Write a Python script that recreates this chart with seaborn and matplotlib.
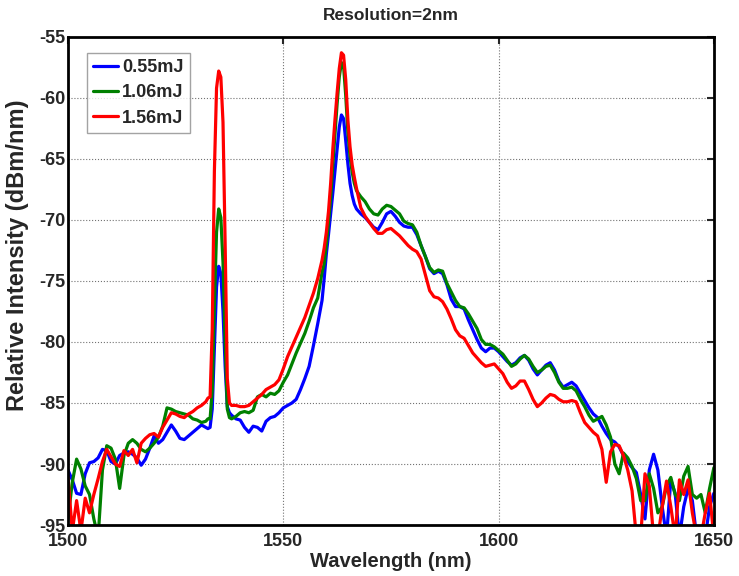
import numpy as np
import pandas as pd
import matplotlib
matplotlib.use('Agg')
import matplotlib.pyplot as plt
import seaborn as sns

# wavelength grid (nm), finer around the two peaks
wl = np.concatenate([
    np.arange(1500, 1533, 1.0),       # 33
    np.arange(1532.5, 1538.01, 0.5),  # 12
    np.arange(1539, 1560, 1.0),       # 21
    np.arange(1559.5, 1567.01, 0.5),  # 16
    np.arange(1568, 1651, 1.0),       # 83
])

energies = ['0.55mJ', '1.06mJ', '1.56mJ']
colors = ['#0000ff', '#008000', '#ff0000']

# 0.55 mJ (blue)
blue_low = [-90.5, -91.3, -92.4, -92.5, -90.8, -89.9, -89.8, -89.5, -88.8, -88.9,
            -89.8, -90.0, -89.3, -89.1, -89.0, -89.2, -89.5, -90.1, -89.6, -88.7,
            -87.7, -88.3, -88.0, -87.4, -86.8, -87.3, -87.9, -88.0, -87.7, -87.4,
            -87.1, -86.8, -87.0]
blue_pk1 = [-87.1, -87.0, -85.5, -80.5, -75.5, -73.8, -74.4, -77.5, -82.0, -85.3, -85.8, -86.0]
blue_mid = [-86.3, -86.4, -87.0, -87.4, -86.9, -87.0, -87.3, -86.5, -86.2, -86.1,
            -85.8, -85.4, -85.2, -85.0, -84.7, -83.9, -83.0, -82.0, -80.3, -78.5, -76.6]
blue_pk2 = [-74.8, -72.8, -71.2, -69.5, -67.8, -66.0, -64.2, -62.4, -61.4, -61.7,
            -63.5, -65.4, -67.0, -68.0, -68.7, -69.1]
blue_tail = [-69.5, -69.8, -70.2, -70.6, -70.8, -70.2, -69.5, -69.3, -69.7, -70.2,
             -70.5, -70.6, -70.6, -71.2, -72.1, -73.0, -74.0, -74.4, -74.2, -74.4,
             -75.3, -76.5, -77.1, -77.1, -77.3, -78.2, -79.0, -79.8, -80.5, -80.8,
             -80.5, -80.5, -80.8, -81.2, -81.6, -81.9, -81.7, -81.3, -81.1, -81.5,
             -82.2, -82.7, -82.3, -81.9, -81.7, -82.3, -83.2, -83.7, -83.5, -83.3,
             -83.6, -84.2, -84.8, -85.4, -85.9, -86.2, -86.9, -87.5, -88.0, -88.2,
             -88.6, -89.3, -89.8, -90.3, -90.7, -92.5, -94.5, -90.5, -89.2, -90.5,
             -93.5, -96.0, -91.3, -92.4, -96.0, -93.5, -92.0, -93.0, -96.0, -96.0,
             -96.0, -93.5, -92.4]

# 1.06 mJ (green)
green_low = [-94.5, -91.5, -89.6, -90.4, -91.8, -92.5, -94.5, -96.0, -90.5, -88.5,
             -88.7, -89.6, -92.0, -89.3, -88.3, -88.0, -88.3, -88.8, -89.0, -88.7,
             -88.3, -87.8, -86.9, -85.4, -85.5, -85.7, -85.8, -85.9, -86.0, -86.3,
             -86.4, -86.6, -86.5]
green_pk1 = [-86.3, -86.3, -84.0, -77.0, -71.0, -69.1, -69.8, -73.5, -80.0, -85.5, -86.2, -86.3]
green_mid = [-86.1, -85.8, -85.7, -85.8, -85.6, -84.5, -84.3, -84.5, -84.2, -84.3,
             -84.0, -83.3, -82.7, -81.8, -80.9, -80.1, -79.3, -78.3, -77.2, -76.4, -74.3]
green_pk2 = [-73.6, -72.0, -70.2, -68.2, -65.5, -63.0, -60.5, -58.3, -57.1, -57.4,
             -59.8, -62.8, -64.8, -66.1, -67.0, -67.6]
green_tail = [-68.1, -68.5, -69.1, -69.5, -69.6, -69.1, -68.8, -68.9, -69.2, -69.5,
              -70.1, -70.3, -70.4, -71.0, -72.1, -73.0, -73.9, -74.3, -74.1, -74.2,
              -75.2, -75.9, -76.6, -77.1, -77.2, -77.7, -78.3, -78.9, -79.8, -80.2,
              -80.2, -80.4, -80.7, -81.0, -81.5, -82.0, -81.8, -81.4, -81.1, -81.4,
              -82.0, -82.5, -82.3, -82.0, -81.9, -82.5, -83.3, -83.8, -83.8, -83.7,
              -84.0, -84.7, -85.3, -86.0, -86.5, -86.3, -86.1, -86.8, -87.8, -90.0,
              -90.8, -89.1, -89.5, -90.2, -91.2, -93.0, -93.0, -90.8, -92.0, -94.0,
              -93.5, -91.8, -91.1, -92.5, -93.0, -91.0, -90.2, -92.5, -92.8, -92.5,
              -94.0, -92.0, -90.3]

# 1.56 mJ (red)
red_low = [-91.1, -95.5, -93.0, -95.5, -92.8, -94.0, -92.5, -91.2, -89.8, -88.8,
           -89.4, -90.0, -90.2, -88.9, -89.3, -88.8, -89.9, -88.3, -87.9, -87.6,
           -87.5, -87.8, -87.0, -86.4, -85.8, -85.9, -86.1, -86.2, -85.9, -85.7,
           -85.4, -85.2, -84.9]
red_pk1 = [-84.6, -84.5, -79.0, -66.0, -59.2, -57.8, -58.3, -62.0, -72.0, -83.0, -85.0, -85.2]
red_mid = [-85.2, -85.3, -85.3, -85.2, -84.9, -84.6, -84.3, -83.9, -83.7, -83.5,
           -83.1, -82.2, -81.2, -80.4, -79.6, -78.8, -78.0, -77.0, -76.0, -74.8, -73.3]
red_pk2 = [-72.3, -71.0, -69.3, -67.0, -64.2, -61.8, -59.6, -57.6, -56.3, -56.5,
           -58.5, -61.8, -64.0, -65.5, -66.5, -67.4]
red_tail = [-69.0, -69.7, -70.2, -70.7, -71.1, -71.1, -70.8, -70.7, -71.0, -71.3,
            -71.7, -72.1, -72.4, -72.6, -73.2, -74.5, -75.8, -76.3, -76.4, -76.7,
            -77.3, -78.1, -79.0, -79.5, -79.7, -80.3, -80.9, -81.3, -81.7, -82.0,
            -81.9, -81.8, -82.2, -82.6, -83.3, -83.8, -83.6, -83.2, -83.2, -83.9,
            -84.7, -85.3, -85.0, -84.6, -84.3, -84.4, -84.7, -84.9, -84.9, -84.8,
            -84.9, -85.8, -86.6, -87.0, -87.4, -87.7, -88.8, -91.5, -89.0, -88.4,
            -88.5, -89.3, -90.5, -92.2, -96.0, -96.0, -90.8, -91.8, -96.0, -96.0,
            -93.5, -91.4, -93.5, -96.0, -91.3, -92.5, -91.3, -94.0, -96.0, -96.0,
            -94.0, -92.4, -96.0]

series = {
    '0.55mJ': blue_low + blue_pk1 + blue_mid + blue_pk2 + blue_tail,
    '1.06mJ': green_low + green_pk1 + green_mid + green_pk2 + green_tail,
    '1.56mJ': red_low + red_pk1 + red_mid + red_pk2 + red_tail,
}

rows = []
for name in energies:
    for x, y in zip(wl, series[name]):
        rows.append({'wl': x, 'val': y, 'energy': name})
df = pd.DataFrame(rows)

sns.set_style('white')
plt.rcParams['font.family'] = ['Liberation Sans', 'DejaVu Sans']
plt.rcParams['font.weight'] = 'bold'
plt.rcParams['axes.unicode_minus'] = False

fig = plt.figure(figsize=(7.39, 5.76), dpi=100)
ax = fig.add_axes([0.092, 0.0885, 0.874, 0.8475])

sns.lineplot(data=df, x='wl', y='val', hue='energy', hue_order=energies,
             palette=colors, linewidth=2.3, ax=ax, sort=False, estimator=None)

ax.set_xlim(1500, 1650)
ax.set_ylim(-95, -55)
ax.set_xticks([1500, 1550, 1600, 1650])
ax.set_yticks(np.arange(-95, -54, 5))
ax.grid(True, linestyle=':', color='0.45', linewidth=0.8)

for sp in ax.spines.values():
    sp.set_linewidth(2.0)
    sp.set_color('black')
ax.tick_params(direction='in', top=True, right=True, length=5, width=1.5,
               labelsize=13)
ax.tick_params(axis='x', pad=6)
ax.tick_params(axis='y', pad=2)
for lab in ax.get_xticklabels() + ax.get_yticklabels():
    lab.set_fontweight('bold')

ax.set_xlabel('Wavelength (nm)', fontsize=14.5, fontweight='bold', labelpad=1)
ax.set_ylabel('Relative Intensity (dBm/nm)', fontsize=17, fontweight='bold')
ax.yaxis.set_label_coords(-0.061, 0.553)
ax.set_title('Resolution=2nm', fontsize=12.5, fontweight='bold', pad=12)

leg = ax.legend(loc='upper left', bbox_to_anchor=(0.029, 0.967), borderaxespad=0,
                frameon=True, fancybox=False, edgecolor='0.55',
                handlelength=1.4, handletextpad=0.2, labelspacing=0.45,
                borderpad=0.35, prop={'weight': 'bold', 'size': 13})
leg.get_frame().set_linewidth(1.0)

fig.savefig('out.png', dpi=100)
